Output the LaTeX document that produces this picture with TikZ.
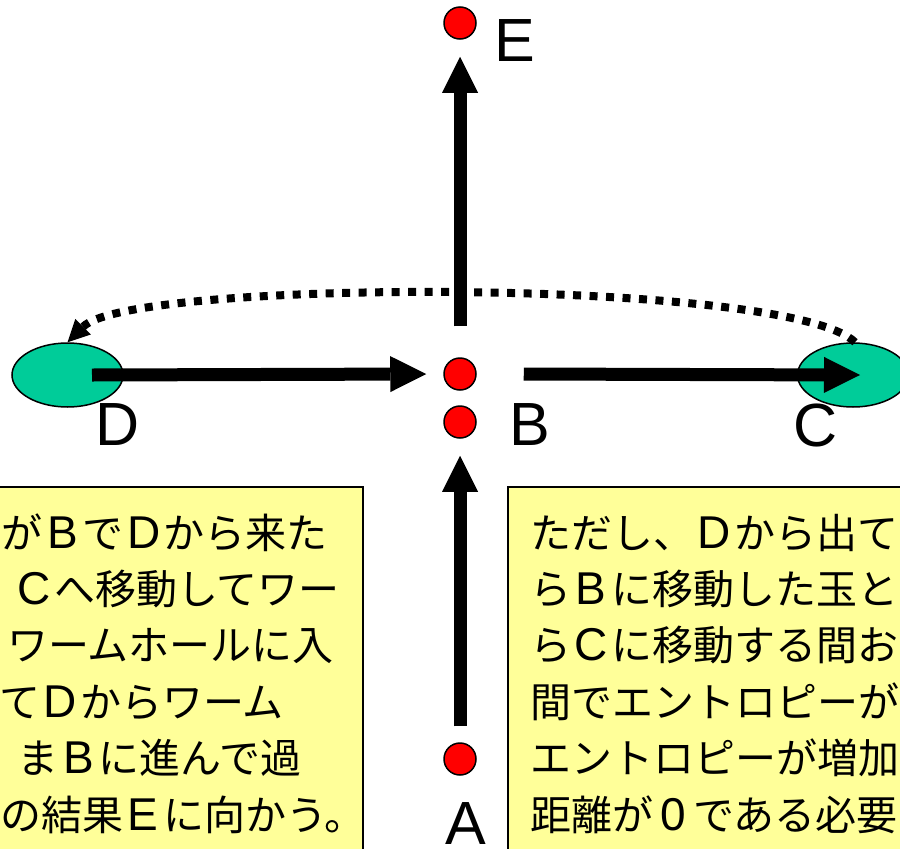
\documentclass[tikz,border=0pt]{standalone}
\usepackage{fontspec}
\setmainfont{Liberation Sans}
\newfontfamily\jp{Noto Sans CJK JP}
\newfontfamily\latfont{Liberation Sans}
\newcommand\lw[1]{\makebox[40pt]{\latfont\fontsize{46}{46}\selectfont #1}}
\usetikzlibrary{arrows.meta,shapes.geometric}
\definecolor{dotred}{RGB}{255,0,0}
\definecolor{holegreen}{RGB}{0,204,153}
\definecolor{notefill}{RGB}{255,255,153}
\begin{document}
\begin{tikzpicture}[x=1pt,y=-1pt,
  dot/.style={circle, fill=dotred, draw=black, line width=1.5pt, minimum size=32pt, inner sep=0pt},
  hole/.style={ellipse, fill=holegreen, draw=black, line width=1.5pt, minimum width=111pt, minimum height=64pt, inner sep=0pt},
  bigarrow/.style={line width=13pt, -{Triangle[length=36pt,width=36pt,line width=0pt]}},
  wormpath/.style={line width=8pt, dash pattern=on 8pt off 8.5pt, -{Triangle[length=22pt,width=22pt,line width=0pt]}},
  letter/.style={inner sep=0pt, font=\fontsize{61}{61}\selectfont},
  notebox/.style={draw=black, line width=2pt, fill=notefill, inner sep=0pt},
  noteline/.style={inner sep=0pt, anchor=base west, font=\jp\fontsize{41}{41}\selectfont},
  notelineR/.style={noteline, anchor=base east}]
\useasboundingbox (0,0) rectangle (900,849);
\clip (0,0) rectangle (900,849);
% text boxes
\node[notebox, minimum width=373pt, minimum height=383pt] (leftbox) at (176.5,678.5) {};
\node[notebox, minimum width=402pt, minimum height=383pt] (rightbox) at (709,678.5) {};
% holes
\node[hole] (D) at (67.5,375) {};
\node[hole] (C) at (853,375) {};
% dots
\node[dot] (E) at (460,23) {};
\node[dot] (B1) at (460,374) {};
\node[dot] (B2) at (460,422) {};
\node[dot] (A) at (460,759) {};
% labels
\node[letter] (labE) at (515,41) {E};
\node[letter] (labB) at (530,425) {B};
\node[letter] (labC) at (816,425) {C};
\node[letter] (labD) at (118,425) {D};
\node[letter] (labA) at (466,824) {A};
% arrows
\draw[wormpath] ([xshift=2pt]C.north) .. controls (791,278) and (132,278) .. (D.north);
\draw[bigarrow] ([xshift=24.5pt]D.center) -- ([xshift=-17pt]B1.west);
\draw[bigarrow] ([xshift=47pt]B1.east) -- ([xshift=7pt]C.center);
\draw[bigarrow] ([yshift=16pt]A.north) -- ([yshift=-17pt]B2.south);
\draw[bigarrow] ([yshift=31pt]B1.north) -- ([yshift=-17pt]E.south);
% left text
\node[notelineR] (l1) at (328,548) {が\lw{B}で\lw{D}から来た};
\node[notelineR] (l2) at (340,604.4) {\lw{C}へ移動してワー};
\node[notelineR] (l3) at (334,660.8) {ワームホールに入};
\node[notelineR] (l4) at (284,717.2) {て\lw{D}からワーム};
\node[notelineR] (l5) at (302,773.6) {ま\lw{B}に進んで過};
\node[notelineR] (l6) at (366,830) {の結果\lw{E}に向かう。};
% right text
\node[noteline] (r1) at (530,548) {ただし、\lw{D}から出て};
\node[noteline] (r2) at (530,604.4) {ら\lw{B}に移動した玉と};
\node[noteline] (r3) at (530,660.8) {ら\lw{C}に移動する間お};
\node[noteline] (r4) at (530,717.2) {間でエントロピーが};
\node[noteline] (r5) at (530,773.6) {エントロピーが増加};
\node[noteline] (r6) at (530,830) {距離が\lw{0}である必要};
\end{tikzpicture}
\end{document}
